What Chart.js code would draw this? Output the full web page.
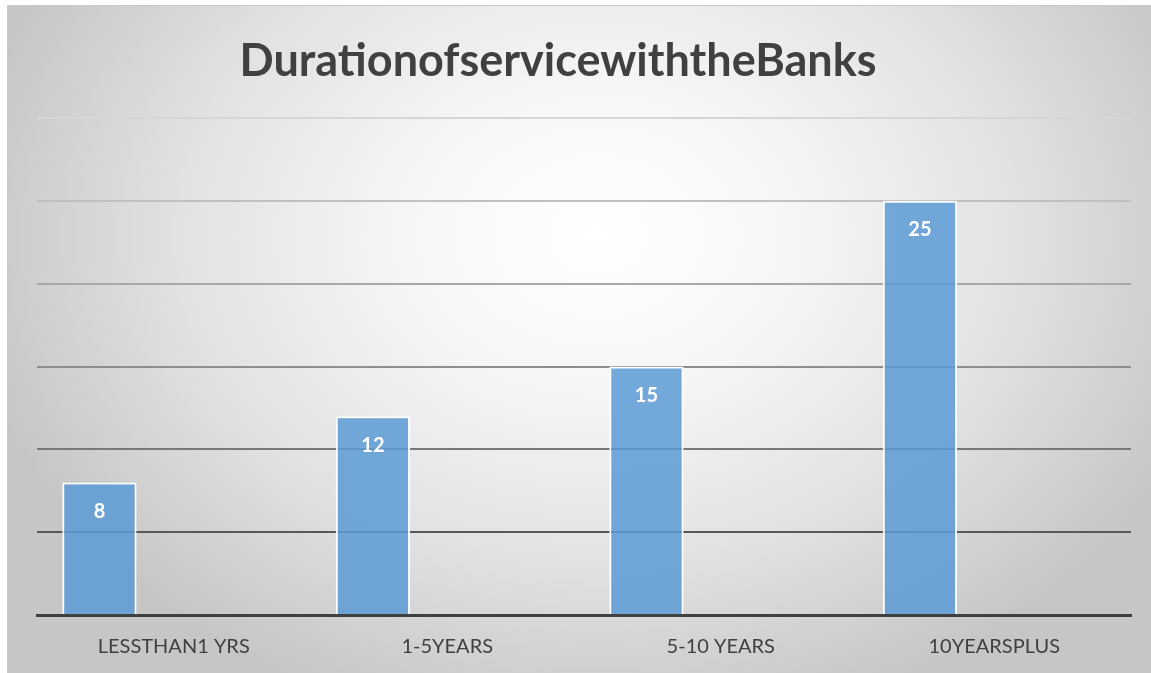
<!DOCTYPE html>
<html>
<head>
<meta charset="utf-8">
<script src="https://cdn.jsdelivr.net/npm/chart.js@4/dist/chart.umd.min.js"></script>
<style>
    html, body { margin: 0; padding: 0; background: #ffffff; }
    #card {
        position: absolute;
        left: 7px; top: 5px;
        width: 1144px; height: 668px;
        box-sizing: border-box;
        border-top: 1px solid #c9c9c9;
        border-left: 1px solid #c9c9c9;
        background: radial-gradient(ellipse 640px 500px at 590px 230px, #ffffff 0%, #f6f6f6 30%, #e2e2e2 65%, #c6c6c6 100%);
    }
    #chart { display: block; }
</style>
</head>
<body>
<div id="card"><canvas id="chart" width="1143" height="667"></canvas></div>
<script>
// Data
const categories = ['LESSTHAN1 YRS', '1-5YEARS', '5-10 YEARS', '10YEARSPLUS'];
const serviceYears = [8, 12, 15, 25];
// the workbook had two more (empty) series in the group, which pushes the bars left
const emptySeries = [null, null, null, null];
const yTicks = [0, 5, 10, 15, 20, 25, 30];
const chartTitle = 'DurationofservicewiththeBanks';

// gridline shade per tick: darker near the baseline, fading upwards
const gridColors = {0: 'rgba(0,0,0,0)', 5: '#585858', 10: '#787878', 15: '#8e8e8e', 20: '#a8a8a8', 25: '#c0c0c0', 30: '#d6d6d6'};

// title sits a bit left of the plot centre in the original, so draw it ourselves
const titlePlugin = {
    id: 'offsetTitle',
    afterDraw(chart) {
        const ctx = chart.ctx;
        ctx.save();
        ctx.fillStyle = '#404040';
        ctx.font = 'bold 45px Lato';
        ctx.textAlign = 'center';
        ctx.textBaseline = 'middle';
        ctx.fillText(chartTitle, 550, 55);
        ctx.restore();
    }
};

// white value labels inside the top of each bar
const valueLabels = {
    id: 'valueLabels',
    afterDatasetsDraw(chart) {
        const ctx = chart.ctx;
        const meta = chart.getDatasetMeta(0);
        ctx.save();
        ctx.fillStyle = '#ffffff';
        ctx.font = 'bold 20px Lato';
        ctx.textAlign = 'center';
        ctx.textBaseline = 'middle';
        meta.data.forEach((bar, i) => {
            ctx.fillText(serviceYears[i], bar.x, bar.y + 29);
        });
        ctx.restore();
    }
};

const ctx = document.getElementById('chart').getContext('2d');
new Chart(ctx, {
    type: 'bar',
    data: {
        labels: categories,
        datasets: [{
            label: 'Duration of service',
            data: serviceYears,
            backgroundColor: 'rgba(91, 155, 213, 0.85)',
            borderColor: '#ffffff',
            borderWidth: 2,
            borderSkipped: 'bottom'
        }, {
            label: 'Series2',
            data: emptySeries
        }, {
            label: 'Series3',
            data: emptySeries
        }]
    },
    options: {
        responsive: false,
        animation: false,
        categoryPercentage: 0.815,
        barPercentage: 1.0,
        layout: {
            padding: { left: 29, right: 20, top: 112, bottom: 2 }
        },
        plugins: {
            legend: { display: false },
            tooltip: { enabled: false },
            title: { display: false }
        },
        scales: {
            x: {
                grid: { display: false },
                border: { display: true, color: '#404040', width: 3 },
                ticks: {
                    color: '#404040',
                    font: { family: 'Lato', size: 20 },
                    padding: 12
                }
            },
            y: {
                min: 0,
                max: 30,
                afterBuildTicks: axis => {
                    axis.ticks = yTicks.map(v => ({ value: v }));
                },
                ticks: { display: false },
                border: { display: false },
                grid: {
                    drawTicks: false,
                    lineWidth: 2,
                    color: c => gridColors[c.tick.value]
                }
            }
        }
    },
    plugins: [valueLabels, titlePlugin]
});
</script>
</body>
</html>
